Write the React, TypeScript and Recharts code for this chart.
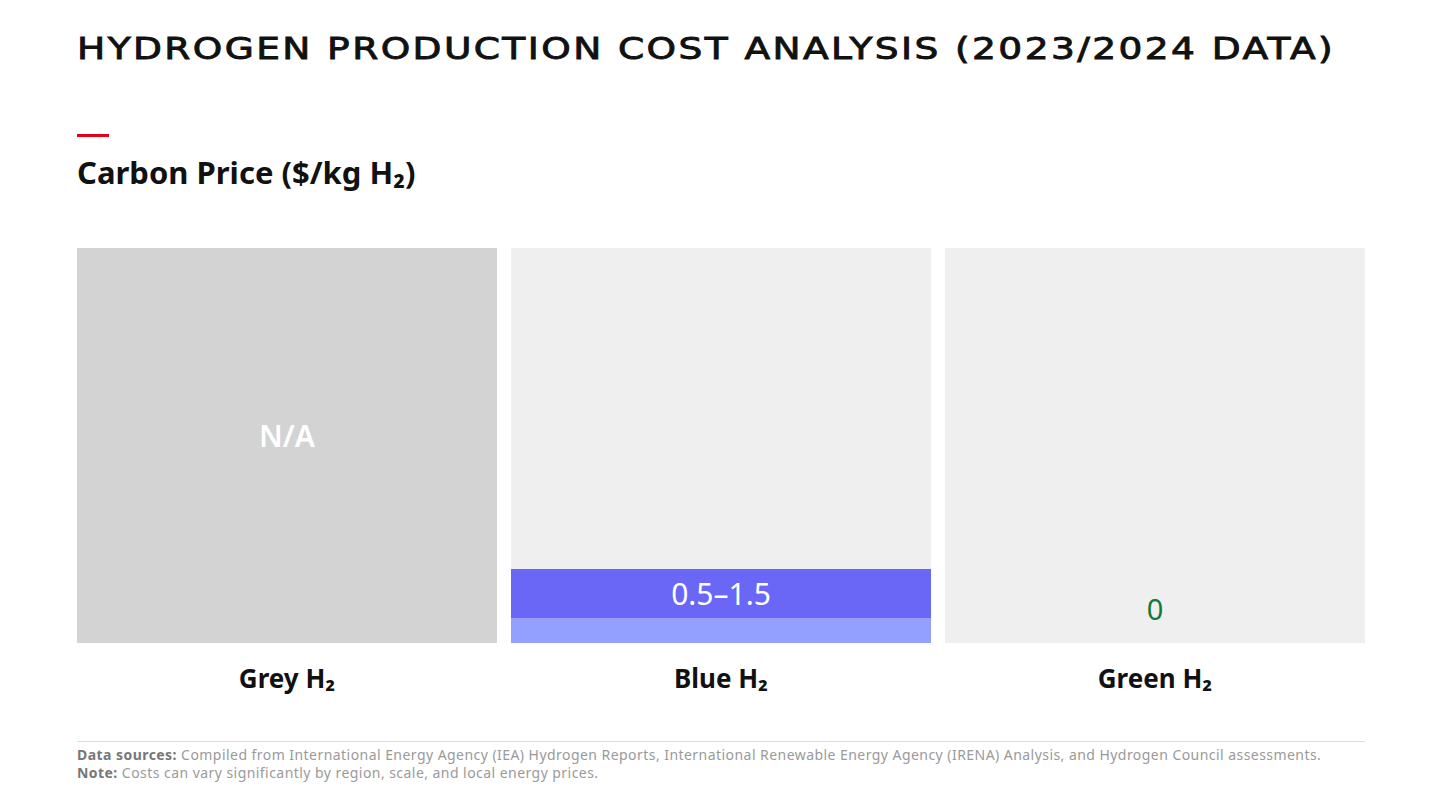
import { BarChart, Bar, XAxis, YAxis, LabelList, Cell } from 'recharts';

// values ($/kg H2)
const categories = ['Grey H₂', 'Blue H₂', 'Green H₂'];
const lowValues = [0, 0.5, 0];
const spanValues = [0, 1.0, 0];
const valueLabels = ['N/A', '0.5–1.5', '0'];
const hasCarbonPrice = [false, true, true];
const yMax = 8;
// full-height panel drawn behind every category
const panelValues = [yMax, yMax, yMax];

const data = categories.map((name, i) => ({
  name,
  panel: panelValues[i],
  low: lowValues[i],
  span: spanValues[i],
  rangeLabel: spanValues[i] > 0 ? valueLabels[i] : '',
}));

const FONT = '"Noto Sans", "Open Sans", sans-serif';

// N/A in the middle of the grey panel, 0 near the bottom of the green one
const PanelLabel = (props: any) => {
  const { x, y, width, height, index } = props;
  if (spanValues[index] > 0) return null;
  const missing = !hasCarbonPrice[index];
  return (
    <text
      x={x + width / 2}
      y={missing ? y + height / 2 - 10 : y + height - 35}
      textAnchor="middle"
      dominantBaseline="central"
      fill={missing ? '#ffffff' : '#137a36'}
      fontFamily={FONT}
      fontWeight={missing ? 600 : 400}
      fontSize={missing ? 30 : 29}
    >
      {valueLabels[index]}
    </text>
  );
};

const RangeLabel = (props: any) => {
  const { x, y, width, height, value } = props;
  if (!value) return null;
  return (
    <text
      x={x + width / 2}
      y={y + height / 2}
      textAnchor="middle"
      dominantBaseline="central"
      fill="#ffffff"
      fontFamily={FONT}
      fontSize={30}
    >
      {value}
    </text>
  );
};

const CategoryTick = (props: any) => {
  const { x, y, payload } = props;
  return (
    <text
      x={x}
      y={y + 27}
      textAnchor="middle"
      dominantBaseline="central"
      fill="#111"
      fontFamily={FONT}
      fontWeight={700}
      fontSize={26}
    >
      {payload.value}
    </text>
  );
};

export default function App() {
  return (
    <div style={{ position: 'absolute', left: 0, top: 0, width: 1440, height: 810, background: '#fff', fontFamily: FONT }}>
      <div
        style={{
          position: 'absolute',
          left: 77,
          top: 30,
          fontFamily: '"DejaVu Sans", sans-serif',
          fontSize: 31,
          letterSpacing: 2,
          color: '#111',
          whiteSpace: 'nowrap',
          WebkitTextStroke: '0.9px #111',
          transform: 'scaleX(1.21)',
          transformOrigin: 'left center',
        }}
      >
        HYDROGEN PRODUCTION COST ANALYSIS (2023/2024 DATA)
      </div>
      <div style={{ position: 'absolute', left: 77, top: 134, width: 32, height: 3, background: '#e4001b' }} />
      <div
        style={{
          position: 'absolute',
          left: 77,
          top: 152,
          fontSize: 31,
          lineHeight: '40px',
          fontWeight: 700,
          color: '#111',
          whiteSpace: 'nowrap',
        }}
      >
        Carbon Price ($/kg H₂)
      </div>

      <div style={{ position: 'absolute', left: 0, top: 230 }}>
        <BarChart width={1440} height={480} data={data} margin={{ top: 18, right: 68, bottom: 0, left: 70 }}>
          <XAxis dataKey="name" axisLine={false} tickLine={false} height={67} tick={<CategoryTick />} interval={0} />
          <XAxis dataKey="name" xAxisId="panel" hide />
          <YAxis hide domain={[0, yMax]} />
          <Bar dataKey="panel" xAxisId="panel" barSize={420} isAnimationActive={false}>
            {data.map((d, i) => (
              <Cell key={d.name} fill={hasCarbonPrice[i] ? '#efefef' : '#d3d3d3'} />
            ))}
            <LabelList dataKey="panel" content={<PanelLabel />} />
          </Bar>
          <Bar dataKey="low" stackId="a" barSize={420} fill="#93a0ff" isAnimationActive={false} />
          <Bar dataKey="span" stackId="a" barSize={420} fill="#6a66f6" isAnimationActive={false}>
            <LabelList dataKey="rangeLabel" content={<RangeLabel />} />
          </Bar>
        </BarChart>
      </div>

      <div style={{ position: 'absolute', left: 77, top: 741, width: 1288, height: 1, background: '#dddddd' }} />
      <div
        style={{
          position: 'absolute',
          left: 77,
          top: 746,
          fontSize: 14,
          letterSpacing: 0.45,
          lineHeight: '18px',
          color: '#9a9a9a',
          whiteSpace: 'nowrap',
        }}
      >
        <div>
          <span style={{ fontWeight: 700, color: '#777' }}>Data sources:</span> Compiled from International Energy Agency (IEA) Hydrogen
          Reports, International Renewable Energy Agency (IRENA) Analysis, and Hydrogen Council assessments.
        </div>
        <div>
          <span style={{ fontWeight: 700, color: '#777' }}>Note:</span> Costs can vary significantly by region, scale, and local energy
          prices.
        </div>
      </div>
    </div>
  );
}
